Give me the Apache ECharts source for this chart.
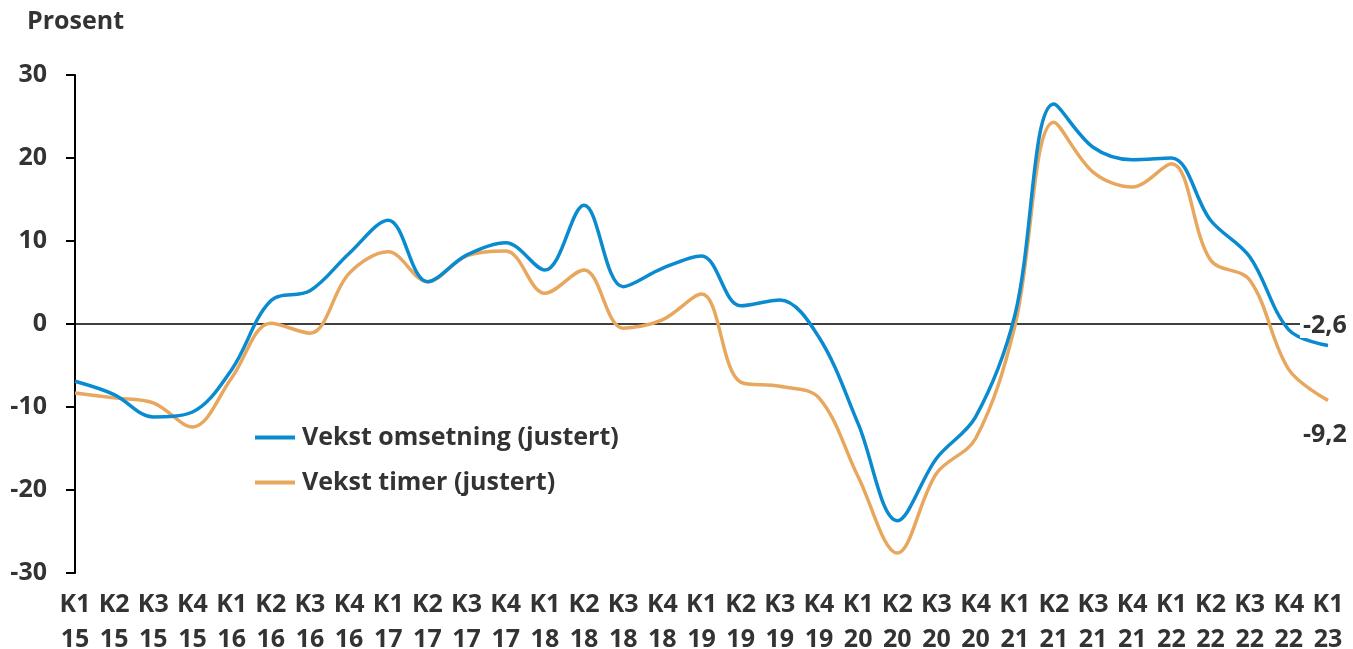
<!DOCTYPE html>
<html>
<head>
<meta charset="utf-8">
<script src="https://cdn.jsdelivr.net/npm/echarts@6/dist/echarts.min.js"></script>
<style>
html,body{margin:0;padding:0;background:#fff;}
#chart{width:1353px;height:649px;}
</style>
</head>
<body>
<div id="chart"></div>
<script>
var categories = ['K1\n15','K2\n15','K3\n15','K4\n15','K1\n16','K2\n16','K3\n16','K4\n16',
  'K1\n17','K2\n17','K3\n17','K4\n17','K1\n18','K2\n18','K3\n18','K4\n18',
  'K1\n19','K2\n19','K3\n19','K4\n19','K1\n20','K2\n20','K3\n20','K4\n20',
  'K1\n21','K2\n21','K3\n21','K4\n21','K1\n22','K2\n22','K3\n22','K4\n22','K1\n23'];
var omsetning = [-6.9,-8.5,-11.2,-10.6,-5.5,2.8,4.0,8.5,12.5,5.1,8.3,9.8,6.5,14.3,4.5,6.7,8.2,2.2,2.9,-1.6,-12.0,-23.7,-16.2,-11.2,1.0,26.5,21.3,19.8,20.0,12.5,8.1,-0.7,-2.6];
var timer = [-8.3,-8.9,-9.5,-12.4,-6.5,0.1,-1.1,6.1,8.7,5.1,8.2,8.8,3.7,6.5,-0.5,0.5,3.6,-7.0,-7.5,-8.9,-18.4,-27.6,-18.0,-13.8,-0.3,24.3,18.3,16.5,19.3,7.7,5.3,-5.5,-9.2];
var yTicks = {min:-30, max:30, interval:10};
var seriesNames = ['Vekst omsetning (justert)','Vekst timer (justert)'];

var txt = '#333333';
var font = '"Open Sans", "Noto Sans", sans-serif';
var fs = 25;
function fmt(v){ return String(v).replace('.', ','); }
function endLbl(offset){
  return {show:true, formatter:function(p){return fmt(p.value);}, distance:0, offset:offset,
    color:txt, fontFamily:font, fontWeight:'bold', fontSize:fs,
    backgroundColor:'#ffffff', padding:[0,0,0,3]};
}
var chart = echarts.init(document.getElementById('chart'));
chart.setOption({
  animation:false,
  textStyle:{fontFamily:font},
  grid:{left:75, right:25, top:75, bottom:76, containLabel:false, outerBoundsMode:'none'},
  title:{text:'Prosent', left:22, top:4, textStyle:{color:txt, fontSize:fs, fontWeight:'bold', fontFamily:font}},
  legend:{
    orient:'vertical', left:250, top:420, itemWidth:40, itemHeight:4, itemGap:20,
    icon:'rect',
    textStyle:{color:txt, fontSize:fs, fontWeight:'bold', fontFamily:font, padding:[0,0,0,2]},
    data:seriesNames
  },
  xAxis:{
    type:'category', data:categories, boundaryGap:false,
    axisLine:{onZero:true, lineStyle:{color:'#000', width:1.5}},
    axisTick:{show:false},
    axisLabel:{interval:0, color:txt, fontSize:fs, fontWeight:'bold', fontFamily:font, lineHeight:35, margin:14}
  },
  yAxis:{
    type:'value', min:yTicks.min, max:yTicks.max, interval:yTicks.interval,
    axisLine:{show:true, lineStyle:{color:'#000', width:2}},
    axisTick:{show:true, length:9, lineStyle:{color:'#000', width:2}},
    splitLine:{show:false},
    axisLabel:{color:txt, fontSize:fs, fontWeight:'bold', fontFamily:font, margin:28}
  },
  series:[
    {name:seriesNames[0], type:'line', smooth:0.35, symbol:'none', data:omsetning,
     endLabel:endLbl([-28,-20]),
     lineStyle:{color:'#0a8bd0', width:3.5}, itemStyle:{color:'#0a8bd0'}, z:3},
    {name:seriesNames[1], type:'line', smooth:0.35, symbol:'none', data:timer,
     endLabel:endLbl([-28,35]),
     lineStyle:{color:'#e8a75e', width:3.5}, itemStyle:{color:'#e8a75e'}, z:2}
  ]
});
</script>
</body>
</html>
